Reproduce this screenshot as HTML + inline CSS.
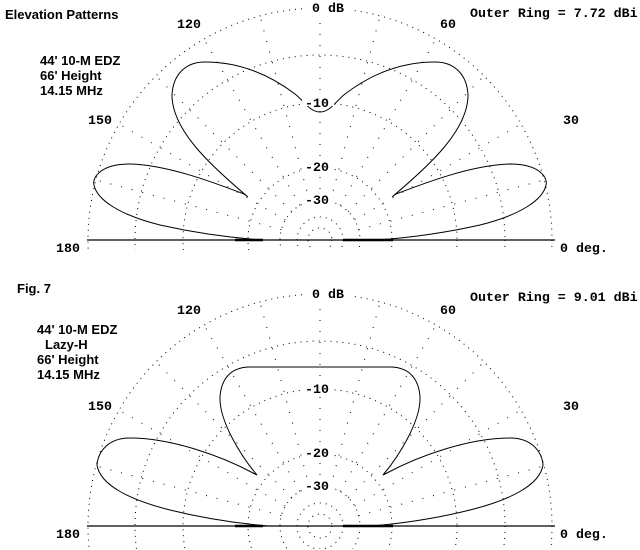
<!DOCTYPE html>
<html><head><style>
html,body{margin:0;padding:0;background:#fff;overflow:hidden;width:640px;height:550px}
svg{display:block}
.m{font-family:"Liberation Mono",monospace;font-weight:bold;font-size:13.3px;fill:#000}
.s{font-family:"Liberation Sans",sans-serif;font-weight:bold;font-size:13px;fill:#000}
.ring{fill:none;stroke:#000;stroke-width:1;stroke-dasharray:1 5}
.rad{stroke:#000;stroke-width:1;stroke-dasharray:1 10}
.lobe{fill:none;stroke:#000;stroke-width:1}
</style></head><body>
<svg width="640" height="550" viewBox="0 0 640 550" xmlns="http://www.w3.org/2000/svg">
<defs>
<clipPath id="cp"><rect x="-240" y="-240" width="480" height="250"/></clipPath>
<clipPath id="cp2"><rect x="-240" y="-240" width="480" height="263"/></clipPath>
<g id="gridbody">
  <circle class="ring" cx="0" cy="0" r="232"/>
  <circle class="ring" cx="0" cy="0" r="185"/>
  <circle class="ring" cx="0" cy="0" r="137"/>
  <circle class="ring" cx="0" cy="0" r="72"/>
  <circle class="ring" cx="0" cy="0" r="40"/>
  <circle class="ring" cx="0" cy="0" r="23"/>
  <circle class="ring" cx="0" cy="0" r="12"/>
  <line class="rad" x1="0" y1="-40" x2="0" y2="-232" transform="rotate(-75)"/>
  <line class="rad" x1="0" y1="-40" x2="0" y2="-232" transform="rotate(-60)"/>
  <line class="rad" x1="0" y1="-40" x2="0" y2="-232" transform="rotate(-45)"/>
  <line class="rad" x1="0" y1="-40" x2="0" y2="-232" transform="rotate(-30)"/>
  <line class="rad" x1="0" y1="-40" x2="0" y2="-232" transform="rotate(-15)"/>
  <line class="rad" x1="0" y1="-40" x2="0" y2="-232"/>
  <line class="rad" x1="0" y1="-40" x2="0" y2="-232" transform="rotate(15)"/>
  <line class="rad" x1="0" y1="-40" x2="0" y2="-232" transform="rotate(30)"/>
  <line class="rad" x1="0" y1="-40" x2="0" y2="-232" transform="rotate(45)"/>
  <line class="rad" x1="0" y1="-40" x2="0" y2="-232" transform="rotate(60)"/>
  <line class="rad" x1="0" y1="-40" x2="0" y2="-232" transform="rotate(75)"/>
</g>
<g id="base">
  <line x1="-233" y1="0" x2="235" y2="0" stroke="#000" stroke-width="1.3"/>
  <line x1="-85" y1="0" x2="-57" y2="0" stroke="#000" stroke-width="2.5"/>
  <line x1="23" y1="0" x2="73" y2="0" stroke="#000" stroke-width="2.5"/>
</g>
<g id="lobeA">
  <path class="lobe" d="M320,112 C310,112 305,102 295,94 C270,75 240,62 205,62 C185,62 173,75 172,95 C172,130 210,165 248,197 L244,194 C220,185 170,165 130,164 C100,164 92,178 94,185 C97,200 120,215 160,225 C200,234 235,238 262,240"/>
</g>
<g id="lobeB">
  <path class="lobe" d="M320,367 L250,367 C230,367 221,380 220,397 C219,420 240,455 257,475 L255,474 C220,455 170,438 130,438 C108,438 98,452 97,465 C100,485 130,500 170,510 C210,520 245,524 268,526"/>
</g>
</defs>

<g transform="translate(320,240)"><g clip-path="url(#cp)"><use href="#gridbody"/></g><use href="#base"/></g>
<use href="#lobeA"/>
<use href="#lobeA" transform="translate(640,0) scale(-1,1)"/>
<g transform="translate(320,526)"><g clip-path="url(#cp2)"><use href="#gridbody"/></g><use href="#base"/></g>
<use href="#lobeB"/>
<use href="#lobeB" transform="translate(640,0) scale(-1,1)"/>

<rect x="302" y="96" width="32" height="10" fill="#fff"/>
<rect x="302" y="160" width="32" height="12" fill="#fff"/>
<rect x="302" y="193" width="32" height="12" fill="#fff"/>
<rect x="302" y="382" width="32" height="12" fill="#fff"/>
<rect x="302" y="446" width="32" height="12" fill="#fff"/>
<rect x="302" y="479" width="32" height="12" fill="#fff"/>
<rect x="305" y="0" width="45" height="14" fill="#fff"/>
<rect x="305" y="286" width="45" height="14" fill="#fff"/>

<text class="s" x="5" y="19">Elevation Patterns</text>
<text class="s" x="40" y="65">44' 10-M EDZ</text>
<text class="s" x="40" y="80">66' Height</text>
<text class="s" x="40" y="95">14.15 MHz</text>
<text class="m" x="312" y="12">0 dB</text>
<text class="m" x="470" y="17">Outer Ring = 7.72 dBi</text>
<text class="m" x="177" y="28">120</text>
<text class="m" x="440" y="28">60</text>
<text class="m" x="88" y="124">150</text>
<text class="m" x="563" y="124">30</text>
<text class="m" x="56" y="252">180</text>
<text class="m" x="560" y="252">0 deg.</text>
<text class="m" x="305" y="107">-10</text>
<text class="m" x="305" y="171">-20</text>
<text class="m" x="305" y="204">-30</text>

<text class="s" x="17" y="293">Fig. 7</text>
<text class="s" x="37" y="334">44' 10-M EDZ</text>
<text class="s" x="45" y="349">Lazy-H</text>
<text class="s" x="37" y="364">66' Height</text>
<text class="s" x="37" y="379">14.15 MHz</text>
<text class="m" x="312" y="298">0 dB</text>
<text class="m" x="470" y="301">Outer Ring = 9.01 dBi</text>
<text class="m" x="177" y="314">120</text>
<text class="m" x="440" y="314">60</text>
<text class="m" x="88" y="410">150</text>
<text class="m" x="563" y="410">30</text>
<text class="m" x="56" y="538">180</text>
<text class="m" x="560" y="538">0 deg.</text>
<text class="m" x="305" y="393">-10</text>
<text class="m" x="305" y="457">-20</text>
<text class="m" x="305" y="490">-30</text>
</svg>
</body></html>
